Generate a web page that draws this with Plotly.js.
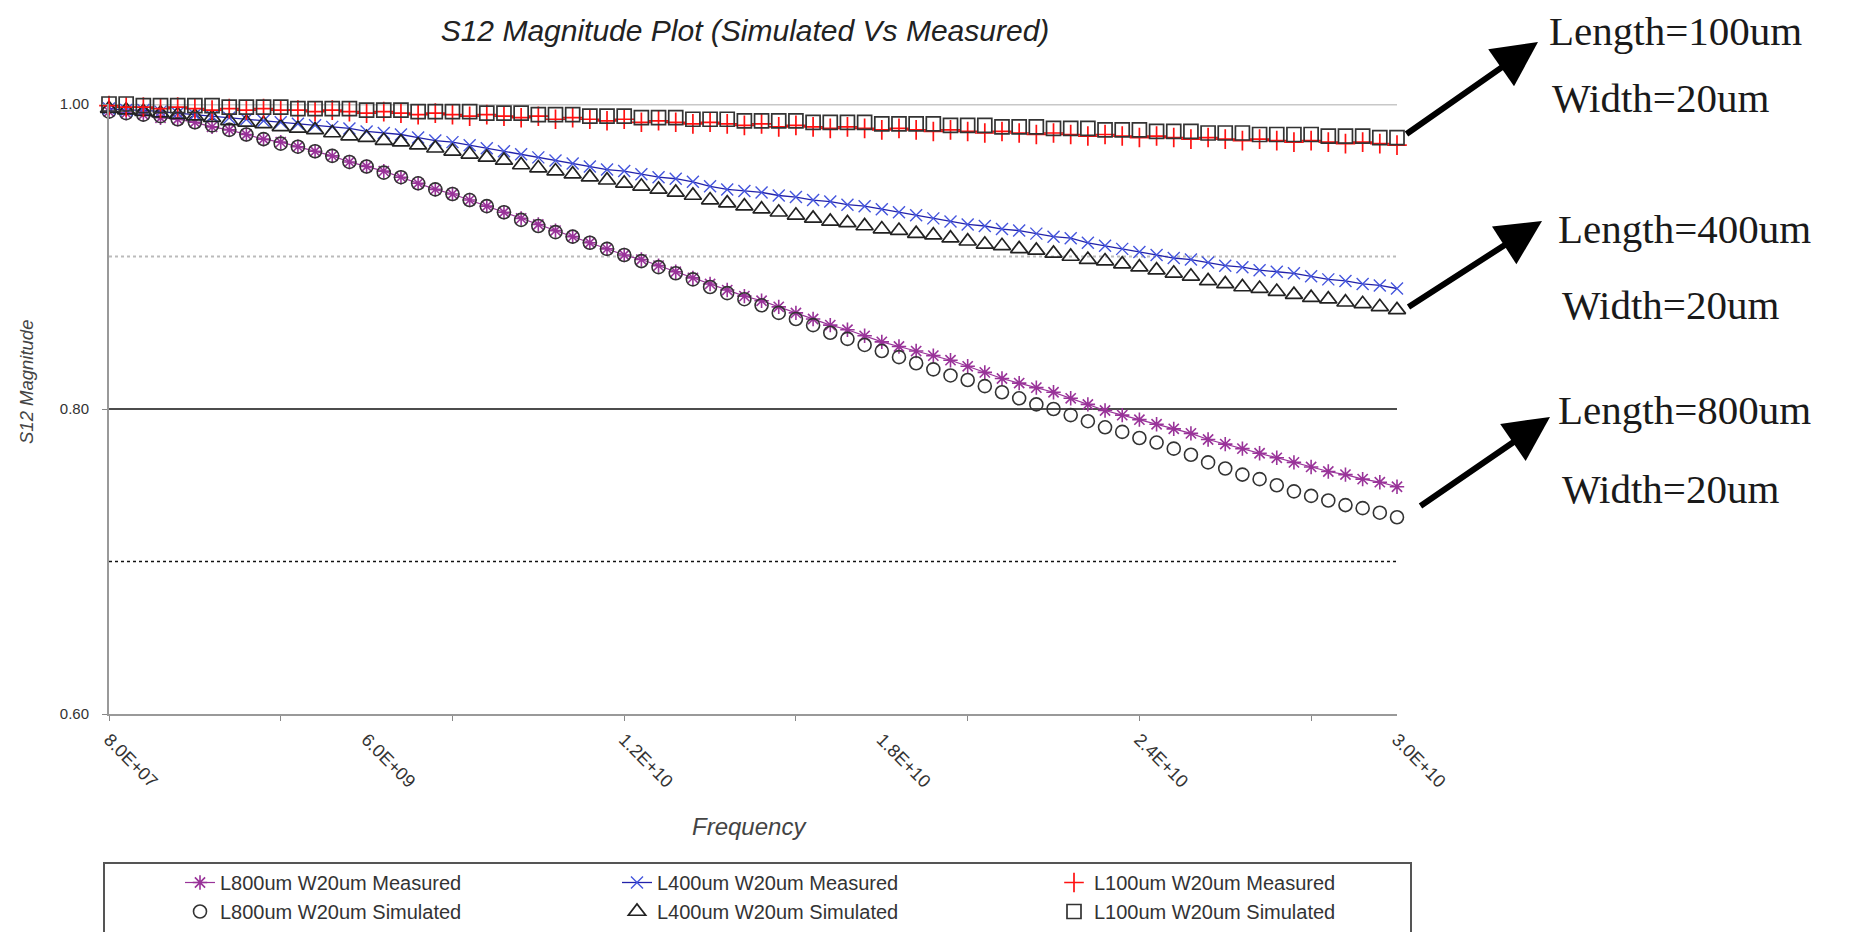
<!DOCTYPE html>
<html>
<head>
<meta charset="utf-8">
<script src="https://cdn.plot.ly/plotly-3.0.1.min.js"></script>
<style>
  html, body { margin: 0; padding: 0; background: #fff; }
  #chart { width: 1870px; height: 932px; }
</style>
</head>
<body>
<div id="chart"></div>
<script>
// Frequency sweep (GHz): 76 points, 0.08 GHz to 30 GHz
const freqGHz = [0.08,0.479,0.878,1.277,1.676,2.075,2.474,2.873,3.271,3.670,
  4.069,4.468,4.867,5.266,5.665,6.064,6.463,6.862,7.261,7.660,
  8.059,8.458,8.856,9.255,9.654,10.053,10.452,10.851,11.250,11.649,
  12.048,12.447,12.846,13.245,13.644,14.043,14.441,14.840,15.239,15.638,
  16.037,16.436,16.835,17.234,17.633,18.032,18.431,18.830,19.229,19.628,
  20.027,20.425,20.824,21.223,21.622,22.021,22.420,22.819,23.218,23.617,
  24.016,24.415,24.814,25.213,25.612,26.010,26.409,26.808,27.207,27.606,
  28.005,28.404,28.803,29.202,29.601,30.000];

const L800_measured = [0.995,0.994,0.993,0.991,0.990,0.988,0.985,0.983,0.980,0.977,
  0.975,0.972,0.969,0.966,0.962,0.959,0.956,0.952,0.948,0.944,
  0.941,0.937,0.933,0.929,0.925,0.921,0.917,0.913,0.909,0.905,
  0.901,0.898,0.894,0.890,0.886,0.882,0.878,0.874,0.871,0.867,
  0.863,0.859,0.855,0.852,0.848,0.844,0.841,0.838,0.835,0.832,
  0.828,0.824,0.820,0.817,0.814,0.811,0.807,0.803,0.799,0.796,
  0.793,0.790,0.787,0.784,0.780,0.777,0.774,0.771,0.768,0.765,
  0.762,0.759,0.757,0.754,0.752,0.749];

const L800_simulated = [0.995,0.994,0.993,0.992,0.990,0.988,0.986,0.983,0.980,0.977,
  0.974,0.972,0.969,0.966,0.962,0.959,0.955,0.952,0.948,0.944,
  0.941,0.937,0.933,0.929,0.924,0.920,0.916,0.913,0.909,0.905,
  0.901,0.897,0.893,0.889,0.885,0.880,0.876,0.872,0.868,0.863,
  0.859,0.855,0.850,0.846,0.842,0.838,0.834,0.830,0.826,0.822,
  0.819,0.815,0.811,0.807,0.803,0.800,0.796,0.792,0.788,0.785,
  0.781,0.778,0.774,0.770,0.765,0.761,0.757,0.754,0.750,0.746,
  0.743,0.740,0.737,0.735,0.732,0.729];

const L400_measured = [0.997,0.996,0.996,0.995,0.994,0.993,0.992,0.991,0.990,0.989,
  0.988,0.987,0.986,0.985,0.984,0.982,0.981,0.980,0.978,0.976,
  0.975,0.973,0.971,0.969,0.967,0.965,0.963,0.961,0.959,0.957,
  0.956,0.954,0.952,0.951,0.949,0.946,0.944,0.943,0.942,0.940,
  0.939,0.937,0.936,0.934,0.933,0.931,0.929,0.927,0.925,0.923,
  0.921,0.920,0.918,0.917,0.915,0.913,0.912,0.909,0.907,0.905,
  0.903,0.901,0.899,0.898,0.896,0.894,0.893,0.891,0.890,0.889,
  0.887,0.885,0.884,0.882,0.881,0.879];

const L400_simulated = [0.997,0.996,0.995,0.994,0.993,0.992,0.991,0.989,0.988,0.987,
  0.985,0.984,0.983,0.981,0.979,0.978,0.976,0.975,0.973,0.971,
  0.969,0.967,0.965,0.963,0.960,0.958,0.956,0.954,0.952,0.950,
  0.948,0.946,0.944,0.942,0.940,0.937,0.935,0.933,0.931,0.929,
  0.927,0.925,0.923,0.922,0.920,0.918,0.917,0.915,0.914,0.912,
  0.910,0.908,0.907,0.905,0.904,0.902,0.900,0.898,0.897,0.895,
  0.893,0.891,0.889,0.887,0.884,0.882,0.880,0.879,0.877,0.875,
  0.873,0.872,0.870,0.869,0.867,0.865];

const L100_measured = [0.999,0.998,0.998,0.997,0.998,0.997,0.996,0.997,0.996,0.997,
  0.996,0.996,0.995,0.996,0.995,0.994,0.995,0.994,0.993,0.994,
  0.993,0.992,0.993,0.992,0.991,0.992,0.990,0.991,0.990,0.989,
  0.990,0.988,0.989,0.988,0.987,0.988,0.987,0.986,0.987,0.985,
  0.986,0.985,0.984,0.985,0.984,0.983,0.984,0.983,0.982,0.983,
  0.982,0.981,0.982,0.981,0.980,0.981,0.980,0.979,0.980,0.979,
  0.978,0.979,0.978,0.977,0.978,0.977,0.976,0.977,0.976,0.975,
  0.976,0.975,0.974,0.975,0.974,0.973];

const L100_simulated = [1.000,1.000,0.999,0.999,0.999,0.999,0.999,0.998,0.998,0.998,
  0.998,0.997,0.997,0.997,0.997,0.996,0.996,0.996,0.995,0.995,
  0.995,0.995,0.994,0.994,0.994,0.993,0.993,0.993,0.992,0.992,
  0.992,0.991,0.991,0.991,0.990,0.990,0.990,0.989,0.989,0.989,
  0.989,0.988,0.988,0.988,0.988,0.987,0.987,0.987,0.987,0.986,
  0.986,0.986,0.985,0.985,0.985,0.984,0.984,0.984,0.983,0.983,
  0.983,0.982,0.982,0.982,0.981,0.981,0.981,0.980,0.980,0.980,
  0.980,0.979,0.979,0.979,0.978,0.978];

// Tick labels
const xTickIndex = [0, 15, 30, 45, 60, 75];
const xTickText = ["8.0E+07", "6.0E+09", "1.2E+10", "1.8E+10", "2.4E+10", "3.0E+10"];
const yTickVals = [0.60, 0.80, 1.00];
const yTickText = ["0.60", "0.80", "1.00"];
const refLines = [1.00, 0.90, 0.80, 0.70];

const seriesNames = [
  "L800um W20um Measured", "L400um W20um Measured", "L100um W20um Measured",
  "L800um W20um Simulated", "L400um W20um Simulated", "L100um W20um Simulated"
];
const callouts = [
  ["Length=100um", "Width=20um"],
  ["Length=400um", "Width=20um"],
  ["Length=800um", "Width=20um"]
];

// ---- layout geometry (pixels) ----
const W = 1870, H = 932;
const PL = 109, PR = 1397, PT = 104, PB = 714;
const px = x => (x - PL) / (PR - PL);
const py = y => (PB - y) / (PB - PT);

const FONT = 'Arial, "Liberation Sans", sans-serif';
const SERIF = '"Times New Roman", "Liberation Serif", serif';

const traces = [
  { x: freqGHz, y: L800_measured, name: seriesNames[0], mode: 'lines+markers', legend: 'legend',
    line: { color: '#993399', width: 1.2 },
    marker: { symbol: 'asterisk-open', size: 12, color: '#993399', line: { width: 1.6, color: '#993399' } } },
  { x: freqGHz, y: L800_simulated, name: seriesNames[3], mode: 'markers', legend: 'legend',
    marker: { symbol: 'circle-open', size: 13, color: '#333333', line: { width: 1.6, color: '#333333' } } },
  { x: freqGHz, y: L400_measured, name: seriesNames[1], mode: 'lines+markers', legend: 'legend2',
    line: { color: '#2222AA', width: 1.3 },
    marker: { symbol: 'x-thin-open', size: 12, color: '#4455DD', line: { width: 1.4, color: '#4455DD' } } },
  { x: freqGHz, y: L400_simulated, name: seriesNames[4], mode: 'markers', legend: 'legend2',
    marker: { symbol: 'triangle-up-open', size: 15, color: '#222222', line: { width: 1.7, color: '#222222' } } },
  { x: freqGHz, y: L100_measured, name: seriesNames[2], mode: 'markers', legend: 'legend3',
    marker: { symbol: 'cross-thin-open', size: 14, color: '#FF1111', line: { width: 1.7, color: '#FF1111' } } },
  { x: freqGHz, y: L100_simulated, name: seriesNames[5], mode: 'markers', legend: 'legend3',
    marker: { symbol: 'square-open', size: 14, color: '#333333', line: { width: 1.7, color: '#333333' } } }
];
traces.forEach(t => { t.cliponaxis = false; t.hoverinfo = 'skip'; });

const lineStyles = [
  { color: '#C8C8C8', width: 3, dash: 'solid' },
  { color: '#BBBBBB', width: 2, dash: 'dot' },
  { color: '#111111', width: 1.6, dash: 'solid' },
  { color: '#111111', width: 1.6, dash: 'dot' }
];
const shapes = refLines.map((v, i) => ({
  type: 'line', xref: 'paper', yref: 'y', x0: 0, x1: 1, y0: v, y1: v,
  layer: 'below', line: lineStyles[i]
}));
// legend frame
shapes.push({ type: 'rect', xref: 'paper', yref: 'paper',
  x0: px(104), x1: px(1411), y0: py(863), y1: py(950),
  line: { color: '#555555', width: 2 }, fillcolor: 'rgba(0,0,0,0)', layer: 'below' });

const annotations = [];
const textPos = [[1547, 31, 1550, 98], [1556, 229, 1560, 305], [1556, 410, 1560, 489]];
callouts.forEach((pair, i) => {
  const p = textPos[i];
  annotations.push({ xref: 'paper', yref: 'paper', x: px(p[0]), y: py(p[1]), xanchor: 'left', yanchor: 'middle',
    text: pair[0], showarrow: false, font: { family: SERIF, size: 41, color: '#1a1a1a' } });
  annotations.push({ xref: 'paper', yref: 'paper', x: px(p[2]), y: py(p[3]), xanchor: 'left', yanchor: 'middle',
    text: pair[1], showarrow: false, font: { family: SERIF, size: 41, color: '#1a1a1a' } });
});
const arrows = [[1538, 42, 1405, 135], [1542, 221, 1407, 308], [1550, 417, 1419, 507]];
arrows.forEach(a => {
  annotations.push({ xref: 'paper', yref: 'paper', x: px(a[0]), y: py(a[1]),
    ax: a[2] - a[0], ay: a[3] - a[1], text: '', showarrow: true,
    arrowhead: 2, arrowsize: 1.5, arrowwidth: 6, arrowcolor: '#000' });
});
// axis titles as annotations (placed like the reference)
annotations.push({ xref: 'paper', yref: 'paper', x: px(26), y: py(382), xanchor: 'center', yanchor: 'middle',
  textangle: -90, showarrow: false, text: '<i>S12 Magnitude</i>',
  font: { family: FONT, size: 18.5, color: '#444' } });
annotations.push({ xref: 'paper', yref: 'paper', x: px(749), y: py(826), xanchor: 'center', yanchor: 'middle',
  showarrow: false, text: '<i>Frequency</i>',
  font: { family: FONT, size: 24, color: '#444' } });

const legendBase = { orientation: 'v', yanchor: 'top', xanchor: 'left', bgcolor: 'rgba(0,0,0,0)',
  borderwidth: 0, font: { family: FONT, size: 20, color: '#333' }, traceorder: 'normal' };

const layout = {
  width: W, height: H,
  margin: { l: PL, r: W - PR, t: PT, b: H - PB, pad: 0, autoexpand: false },
  paper_bgcolor: '#fff', plot_bgcolor: '#fff',
  font: { family: FONT, color: '#333' },
  title: { text: '<i>S12 Magnitude Plot (Simulated Vs Measured)</i>', x: 745 / W, xanchor: 'center',
    y: 1 - 30 / H, yanchor: 'middle', yref: 'container', font: { family: FONT, size: 30, color: '#222' } },
  xaxis: {
    range: [freqGHz[0], freqGHz[freqGHz.length - 1]], automargin: false,
    tickmode: 'array', tickvals: xTickIndex.map(i => freqGHz[i]), ticktext: xTickText,
    tickangle: 45, ticks: '', ticklabelstandoff: 6,
    tickfont: { family: FONT, size: 18, color: '#333' },
    minor: { tickmode: 'linear', tick0: freqGHz[0], dtick: freqGHz[10] - freqGHz[0], ticks: 'outside',
      ticklen: 5, tickcolor: '#888', tickwidth: 1, showgrid: false },
    showgrid: false, zeroline: false, showline: true, linecolor: '#999', linewidth: 2
  },
  yaxis: {
    range: [0.6, 1.0], automargin: false, tickmode: 'array', tickvals: yTickVals, ticktext: yTickText,
    ticks: 'outside', ticklen: 5, tickcolor: '#888', ticklabelstandoff: 10,
    tickfont: { family: FONT, size: 15, color: '#333' },
    showgrid: false, zeroline: false, showline: true, linecolor: '#999', linewidth: 2
  },
  legend: Object.assign({}, legendBase, { x: px(180), y: py(863) }),
  legend2: Object.assign({}, legendBase, { x: px(617), y: py(863) }),
  legend3: Object.assign({}, legendBase, { x: px(1054), y: py(863) }),
  shapes: shapes,
  annotations: annotations,
  showlegend: true
};

Plotly.newPlot('chart', traces, layout, { staticPlot: true, displayModeBar: false });
</script>
</body>
</html>
